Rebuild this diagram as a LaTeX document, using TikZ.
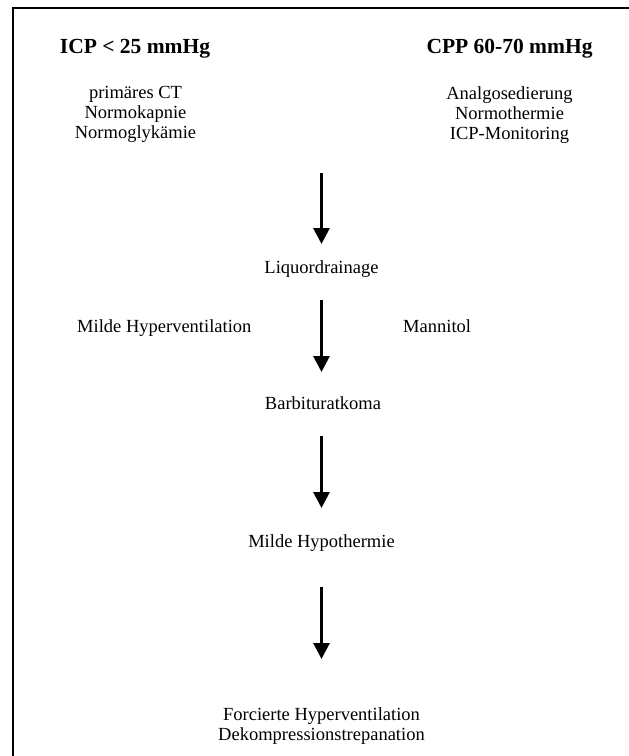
\documentclass[tikz,border=0pt]{standalone}
\usepackage{fontspec}
\setmainfont{Liberation Serif}
\usetikzlibrary{arrows.meta}
\tikzset{%
heading/.style={anchor=base,inner sep=0pt,font=\fontsize{21.5}{24}\selectfont\bfseries},
measures/.style={anchor=north,inner sep=0pt,align=center,font=\fontsize{18.5}{20}\selectfont},
therapy/.style={anchor=base,inner sep=0pt,font=\fontsize{18.5}{20}\selectfont},
flow/.style={line width=3pt,-{Triangle[width=16pt,length=16pt]}},
frame/.style={line width=1.5pt},
}
\begin{document}
\begin{tikzpicture}[x=1pt,y=-1pt]
\useasboundingbox (0,0) rectangle (629,756);
\draw[frame] (629,8) -- (13,8) -- (13,756);

\node[heading] (icp) at (135,53) {ICP < 25 mmHg};
\node[heading] (cpp) at (509.5,53) {CPP 60-70 mmHg};
\node[measures] (basis) at (135.5,86) {primäres CT\\Normokapnie\\Normoglykämie};
\node[measures] (monitor) at (509.5,86) {Analgosedierung\\Normothermie\\ICP-Monitoring};

\coordinate (start1) at (321.5,173);
\coordinate (tip1) at (321.5,244);
\node[therapy] (drain) at (321.5,273) {Liquordrainage};

\node[therapy,anchor=base west] (hypervent) at (77,332) {Milde Hyperventilation};
\node[therapy,anchor=base west] (mannitol) at (403,332) {Mannitol};
\coordinate (start2) at (321.5,300);
\coordinate (tip2) at (321.5,372);
\node[therapy] (barbi) at (323,409) {Barbituratkoma};

\coordinate (start3) at (321.5,436);
\coordinate (tip3) at (321.5,508);
\node[therapy] (hypotherm) at (321.5,547) {Milde Hypothermie};

\coordinate (start4) at (321.5,587);
\coordinate (tip4) at (321.5,659);
\node[measures] (last) at (321.5,707) {Forcierte Hyperventilation\\Dekompressionstrepanation};

\draw[flow] (start1) -- (tip1);
\draw[flow] (start2) -- (tip2);
\draw[flow] (start3) -- (tip3);
\draw[flow] (start4) -- (tip4);
\end{tikzpicture}
\end{document}
